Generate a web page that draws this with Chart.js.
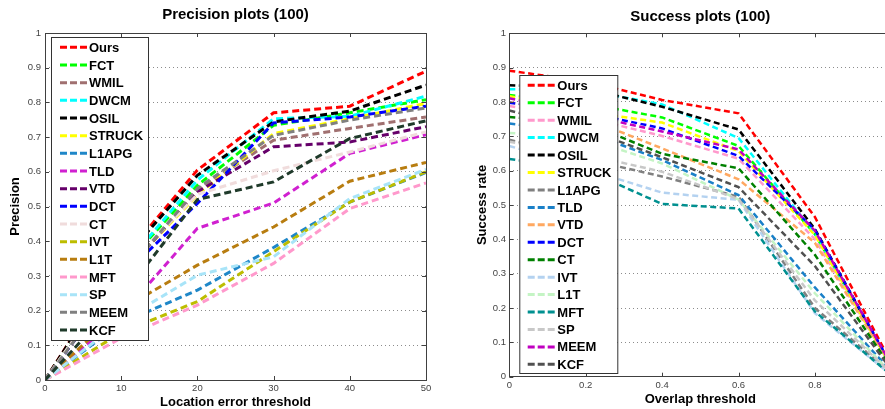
<!DOCTYPE html>
<html>
<head>
<meta charset="utf-8">
<script src="https://cdn.jsdelivr.net/npm/chart.js@4.4.1/dist/chart.umd.min.js"></script>
<style>
  html, body { margin: 0; padding: 0; background: #fff; overflow: hidden; width: 885px; height: 409px; }
  #precisionChart { position: absolute; left: 0; top: 0; }
  #successChart { position: absolute; left: 445px; top: 0; }
</style>
</head>
<body>
<canvas id="precisionChart" width="440" height="409"></canvas>
<canvas id="successChart" width="460" height="409"></canvas>
<script>
// trackers, same order in both legends
var trackers = ["Ours", "FCT", "WMIL", "DWCM", "OSIL", "STRUCK", "L1APG", "TLD", "VTD",
  "DCT", "CT", "IVT", "L1T", "MFT", "SP", "MEEM", "KCF"];

// precision plot: location error threshold (pixels)
var precisionTitle = "Precision plots (100)";
var precisionThresholds = [0, 10, 20, 30, 40, 50];
var precisionRates = [
  [0, 0.344, 0.605, 0.770, 0.789, 0.890], // Ours
  [0, 0.318, 0.561, 0.734, 0.770, 0.808], // FCT
  [0, 0.296, 0.547, 0.691, 0.725, 0.758], // WMIL
  [0, 0.318, 0.576, 0.753, 0.760, 0.818], // DWCM
  [0, 0.340, 0.590, 0.744, 0.775, 0.850], // OSIL
  [0, 0.304, 0.533, 0.710, 0.753, 0.797], // STRUCK
  [0, 0.164, 0.259, 0.382, 0.513, 0.598], // L1APG
  [0, 0.186, 0.437, 0.510, 0.653, 0.707], // TLD
  [0, 0.299, 0.542, 0.672, 0.686, 0.730], // VTD
  [0, 0.295, 0.509, 0.741, 0.758, 0.789], // DCT
  [0, 0.310, 0.535, 0.603, 0.657, 0.715], // CT
  [0, 0.137, 0.226, 0.370, 0.513, 0.600], // IVT
  [0, 0.203, 0.331, 0.441, 0.573, 0.627], // L1T
  [0, 0.121, 0.216, 0.336, 0.494, 0.568], // MFT
  [0, 0.170, 0.302, 0.355, 0.523, 0.607], // SP
  [0, 0.294, 0.552, 0.705, 0.749, 0.784], // MEEM
  [0, 0.237, 0.520, 0.571, 0.696, 0.747]  // KCF
];
var precisionColors = ["#ff0000", "#00ff00", "#a07070", "#00ffff", "#000000", "#ffff00",
  "#1f87c8", "#d020d0", "#66006a", "#0000ff", "#f0dcdc", "#bdbd00", "#b87d10", "#ff99cc",
  "#a8e4f8", "#808080", "#1f3a2a"];

// success plot: overlap threshold
var successTitle = "Success plots (100)";
var successThresholds = [0, 0.2, 0.4, 0.6, 0.8, 1];
var successRates = [
  [0.891, 0.860, 0.806, 0.767, 0.465, 0.040], // Ours
  [0.820, 0.796, 0.755, 0.672, 0.415, 0.030], // FCT
  [0.788, 0.755, 0.701, 0.635, 0.400, 0.030], // WMIL
  [0.837, 0.834, 0.793, 0.695, 0.418, 0.030], // DWCM
  [0.849, 0.840, 0.786, 0.720, 0.430, 0.030], // OSIL
  [0.817, 0.772, 0.740, 0.657, 0.412, 0.030], // STRUCK
  [0.690, 0.634, 0.583, 0.524, 0.200, 0.010], // L1APG
  [0.737, 0.713, 0.631, 0.529, 0.260, 0.015], // TLD
  [0.800, 0.753, 0.665, 0.575, 0.390, 0.030], // VTD
  [0.798, 0.770, 0.723, 0.643, 0.428, 0.035], // DCT
  [0.756, 0.739, 0.649, 0.607, 0.355, 0.025], // CT
  [0.672, 0.605, 0.536, 0.515, 0.185, 0.005], // IVT
  [0.710, 0.694, 0.621, 0.516, 0.243, 0.010], // L1T
  [0.634, 0.602, 0.503, 0.490, 0.190, 0.005], // MFT
  [0.684, 0.647, 0.597, 0.517, 0.222, 0.010], // SP
  [0.811, 0.763, 0.714, 0.662, 0.425, 0.035], // MEEM
  [0.775, 0.721, 0.639, 0.552, 0.322, 0.020]  // KCF
];
var successColors = ["#ff0000", "#00ff00", "#ff99cc", "#00ffff", "#000000", "#ffff00",
  "#808080", "#1a80c8", "#ffa860", "#0000ff", "#008000", "#b4d2f0", "#c4f4c4", "#009090",
  "#c8c8c8", "#c000c0", "#505050"];

var FONT = "'Liberation Sans', Arial, Helvetica, sans-serif";
Chart.defaults.font.family = FONT;

// matlab style labels: 0, 0.1 ... 1
function tickText(v) {
  return String(Number(v.toFixed(2)));
}

// box, inward ticks, legend and title drawn matlab-style
var matlabBox = {
  id: "matlabBox",
  afterDatasetsDraw: function (chart, args, o) {
    var ctx = chart.ctx;
    var a = chart.chartArea;
    var xs = chart.scales.x;
    var ys = chart.scales.y;
    ctx.save();
    ctx.setLineDash([]);
    ctx.strokeStyle = "#404040";
    ctx.lineWidth = 1;
    ctx.strokeRect(Math.round(a.left) + 0.5, Math.round(a.top) + 0.5,
      Math.round(a.right - a.left), Math.round(a.bottom - a.top));

    // ticks pointing into the axes
    ctx.beginPath();
    xs.ticks.forEach(function (t) {
      var px = Math.round(xs.getPixelForValue(t.value)) + 0.5;
      ctx.moveTo(px, a.bottom); ctx.lineTo(px, a.bottom - 4);
      ctx.moveTo(px, a.top); ctx.lineTo(px, a.top + 4);
    });
    ys.ticks.forEach(function (t) {
      var py = Math.round(ys.getPixelForValue(t.value)) + 0.5;
      ctx.moveTo(a.left, py); ctx.lineTo(a.left + 4, py);
      ctx.moveTo(a.right, py); ctx.lineTo(a.right - 4, py);
    });
    ctx.stroke();

    // legend box
    ctx.fillStyle = "#ffffff";
    ctx.fillRect(o.x, o.y, o.w, o.h);
    ctx.strokeStyle = "#333333";
    ctx.strokeRect(o.x + 0.5, o.y + 0.5, o.w, o.h);
    ctx.font = "bold 13px " + FONT;
    ctx.textAlign = "left";
    ctx.textBaseline = "middle";
    chart.data.datasets.forEach(function (ds, i) {
      var y = o.firstRow + i * o.rowGap;
      ctx.strokeStyle = ds.borderColor;
      ctx.lineWidth = 3;
      ctx.setLineDash([7, 3]);
      ctx.beginPath();
      ctx.moveTo(o.lineX, y);
      ctx.lineTo(o.lineX + 27, y);
      ctx.stroke();
      ctx.setLineDash([]);
      ctx.fillStyle = "#000000";
      ctx.fillText(ds.label, o.textX, y + 1);
    });

    // title
    ctx.font = "bold 15px " + FONT;
    ctx.textAlign = "center";
    ctx.fillStyle = "#000000";
    ctx.fillText(o.title, (a.left + a.right) / 2, o.titleY);
    ctx.restore();
  }
};

function buildChart(id, cfg) {
  var datasets = trackers.map(function (name, i) {
    return {
      label: name,
      data: cfg.thresholds.map(function (x, j) {
        return { x: x, y: cfg.rates[i][j] };
      }),
      borderColor: cfg.colors[i],
      backgroundColor: cfg.colors[i],
      borderWidth: cfg.lineWidth,
      borderDash: cfg.dash,
      pointRadius: 0,
      tension: 0,
      fill: false,
      order: trackers.length - i // later trackers on top, like matlab
    };
  });

  return new Chart(document.getElementById(id), {
    type: "line",
    data: { datasets: datasets },
    options: {
      responsive: false,
      animation: false,
      devicePixelRatio: 1,
      layout: { padding: { top: cfg.top, right: cfg.padRight, left: 0, bottom: 0 } },
      plugins: {
        legend: { display: false },
        tooltip: { enabled: false },
        title: { display: false },
        matlabBox: cfg.legend
      },
      scales: {
        x: {
          type: "linear",
          min: cfg.xMin,
          max: cfg.xMax,
          ticks: {
            stepSize: cfg.xStep, padding: 3, color: "#444", font: { size: 9.5 }, maxRotation: 0,
            callback: tickText
          },
          grid: { display: false, drawTicks: false },
          border: { display: false },
          title: {
            display: true,
            text: cfg.xLabel,
            color: "#000",
            font: { size: 13, weight: "bold", lineHeight: 1 },
            padding: { top: 0, bottom: cfg.xTitlePad }
          },
          afterFit: function (s) { s.height = cfg.xHeight; }
        },
        y: {
          min: 0,
          max: 1,
          ticks: {
            stepSize: 0.1, padding: cfg.yTickPad, color: "#444", font: { size: 9.5 },
            callback: tickText
          },
          grid: { color: "#8c8c8c", lineWidth: 1, drawTicks: false },
          border: { display: false, dash: [1, 3] },
          title: {
            display: true,
            text: cfg.yLabel,
            color: "#000",
            font: { size: 13, weight: "bold" },
            padding: { top: cfg.yTitlePad, bottom: 0 }
          },
          afterFit: function (s) { s.width = cfg.yWidth; }
        }
      }
    },
    plugins: [matlabBox]
  });
}

buildChart("precisionChart", {
  thresholds: precisionThresholds,
  rates: precisionRates,
  colors: precisionColors,
  lineWidth: 3,
  dash: [7, 4],
  top: 33,
  padRight: 14,
  xMin: 0, xMax: 50, xStep: 10,
  xLabel: "Location error threshold",
  xTitlePad: 0,
  xHeight: 29,
  yLabel: "Precision",
  yTitlePad: 8,
  yTickPad: 4,
  yWidth: 45,
  legend: {
    title: precisionTitle, titleY: 15,
    x: 51, y: 37, w: 97, h: 303,
    lineX: 60, textX: 89, firstRow: 47.3, rowGap: 17.67
  }
});

buildChart("successChart", {
  thresholds: successThresholds,
  rates: successRates,
  colors: successColors,
  lineWidth: 2.5,
  dash: [6, 3.5],
  top: 33.3,
  padRight: 13.7,
  xMin: 0, xMax: 1, xStep: 0.2,
  xLabel: "Overlap threshold",
  xTitlePad: 3.5,
  xHeight: 32.3,
  yLabel: "Success rate",
  yTitlePad: 30,
  yTickPad: 3.3,
  yWidth: 64.3,
  legend: {
    title: successTitle, titleY: 16.7,
    x: 74.3, y: 75, w: 98, h: 298,
    lineX: 82.7, textX: 112.3, firstRow: 85.3, rowGap: 17.44
  }
});
</script>
</body>
</html>
